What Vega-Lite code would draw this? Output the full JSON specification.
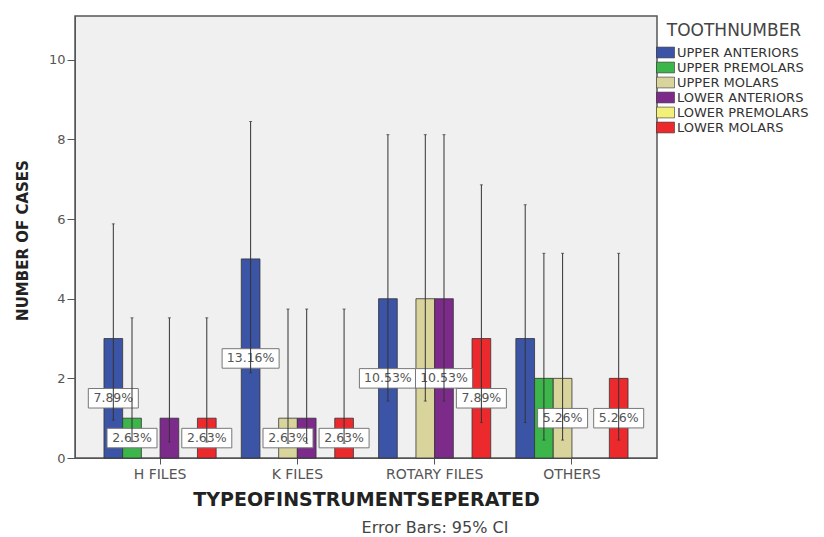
{
  "$schema": "https://vega.github.io/schema/vega-lite/v6.json",
  "autosize": {"type": "none"},
  "width": 582,
  "height": 442,
  "padding": {"left": 75, "top": 16, "right": 167, "bottom": 79},
  "background": "white",
  "config": {
    "font": "DejaVu Sans",
    "view": {"fill": "#f0f0f0", "stroke": "#555555", "strokeWidth": 1.5},
    "axis": {"grid": false, "domainColor": "#555555", "tickColor": "#555555", "labelColor": "#555555"}
  },
  "title": {
    "text": "Error Bars: 95% CI",
    "orient": "bottom",
    "anchor": "middle",
    "dx": 69,
    "offset": 11,
    "fontSize": 16,
    "fontWeight": "normal",
    "color": "#444444"
  },
  "data": {
    "values": [
      {"type": "H FILES", "tooth": "UPPER ANTERIORS", "count": 3, "lo": 0.95, "hi": 5.88},
      {"type": "H FILES", "tooth": "UPPER PREMOLARS", "count": 1, "lo": 0.41, "hi": 3.52},
      {"type": "H FILES", "tooth": "LOWER ANTERIORS", "count": 1, "lo": 0.4, "hi": 3.52},
      {"type": "H FILES", "tooth": "LOWER MOLARS", "count": 1, "lo": 0.4, "hi": 3.52},
      {"type": "K FILES", "tooth": "UPPER ANTERIORS", "count": 5, "lo": 2.14, "hi": 8.45},
      {"type": "K FILES", "tooth": "UPPER MOLARS", "count": 1, "lo": 0.37, "hi": 3.74},
      {"type": "K FILES", "tooth": "LOWER ANTERIORS", "count": 1, "lo": 0.37, "hi": 3.74},
      {"type": "K FILES", "tooth": "LOWER MOLARS", "count": 1, "lo": 0.37, "hi": 3.74},
      {"type": "ROTARY FILES", "tooth": "UPPER ANTERIORS", "count": 4, "lo": 1.43, "hi": 8.12},
      {"type": "ROTARY FILES", "tooth": "UPPER MOLARS", "count": 4, "lo": 1.43, "hi": 8.12},
      {"type": "ROTARY FILES", "tooth": "LOWER ANTERIORS", "count": 4, "lo": 1.43, "hi": 8.12},
      {"type": "ROTARY FILES", "tooth": "LOWER MOLARS", "count": 3, "lo": 0.89, "hi": 6.86},
      {"type": "OTHERS", "tooth": "UPPER ANTERIORS", "count": 3, "lo": 0.89, "hi": 6.36},
      {"type": "OTHERS", "tooth": "UPPER PREMOLARS", "count": 2, "lo": 0.45, "hi": 5.14},
      {"type": "OTHERS", "tooth": "UPPER MOLARS", "count": 2, "lo": 0.45, "hi": 5.14},
      {"type": "OTHERS", "tooth": "LOWER MOLARS", "count": 2, "lo": 0.45, "hi": 5.14}
    ]
  },
  "transform": [
    {"joinaggregate": [{"op": "sum", "field": "count", "as": "total"}]},
    {"calculate": "datum.count / datum.total", "as": "share"},
    {"calculate": "datum.count / 2", "as": "mid"}
  ],
  "encoding": {
    "x": {
      "field": "type",
      "type": "nominal",
      "sort": ["H FILES", "K FILES", "ROTARY FILES", "OTHERS"],
      "scale": {"paddingInner": 0.183, "paddingOuter": 0.211},
      "axis": {
        "title": "TYPEOFINSTRUMENTSEPERATED",
        "labelAngle": 0,
        "tickSize": 6,
        "labelPadding": 3,
        "labelFontSize": 14,
        "titleFontSize": 19,
        "titleFontWeight": "bold",
        "titleColor": "#222222",
        "titleX": 291,
        "titleY": 47,
        "titleBaseline": "alphabetic"
      }
    },
    "xOffset": {
      "field": "tooth",
      "type": "nominal",
      "sort": ["UPPER ANTERIORS", "UPPER PREMOLARS", "UPPER MOLARS", "LOWER ANTERIORS", "LOWER PREMOLARS", "LOWER MOLARS"],
      "scale": {
        "domain": ["UPPER ANTERIORS", "UPPER PREMOLARS", "UPPER MOLARS", "LOWER ANTERIORS", "LOWER PREMOLARS", "LOWER MOLARS"],
        "paddingInner": 0,
        "paddingOuter": 0
      }
    }
  },
  "layer": [
    {
      "mark": {"type": "bar", "stroke": "#333333", "strokeWidth": 0.8},
      "encoding": {
        "y": {
          "field": "count",
          "type": "quantitative",
          "scale": {"domain": [0, 11.1], "nice": false},
          "axis": {
            "title": "NUMBER OF CASES",
            "values": [0, 2, 4, 6, 8, 10],
            "tickSize": 8,
            "labelPadding": 2,
            "labelFontSize": 13,
            "titleFontSize": 15,
            "titleFontWeight": "bold",
            "titleColor": "#222222",
            "titleX": -53,
            "titleY": 224,
            "titleBaseline": "middle"
          }
        },
        "color": {
          "field": "tooth",
          "type": "nominal",
          "scale": {
            "domain": ["UPPER ANTERIORS", "UPPER PREMOLARS", "UPPER MOLARS", "LOWER ANTERIORS", "LOWER PREMOLARS", "LOWER MOLARS"],
            "range": ["#3b54a5", "#3cb54a", "#d8d49c", "#7d2b8b", "#f3f07a", "#ec2a2e"]
          },
          "legend": {
            "title": "TOOTHNUMBER",
            "orient": "none",
            "legendX": 584,
            "legendY": 7,
            "padding": 0,
            "titleFontSize": 17,
            "titleFontWeight": "normal",
            "titleColor": "#444444",
            "titleAnchor": "middle",
            "titlePadding": 6,
            "labelFontSize": 13,
            "labelColor": "#333333",
            "labelOffset": 5,
            "rowPadding": 0,
            "symbolType": "M-1.5,-0.9H1.5V0.9H-1.5Z",
            "symbolSize": 144,
            "symbolStrokeColor": "#333333",
            "symbolStrokeWidth": 0.6,
            "symbolOpacity": 1
          }
        }
      }
    },
    {
      "transform": [{"filter": "indexof(['H FILES|UPPER ANTERIORS', 'H FILES|UPPER PREMOLARS', 'H FILES|LOWER MOLARS', 'K FILES|UPPER ANTERIORS', 'K FILES|UPPER MOLARS', 'K FILES|LOWER MOLARS', 'ROTARY FILES|UPPER ANTERIORS', 'ROTARY FILES|LOWER ANTERIORS', 'ROTARY FILES|LOWER MOLARS', 'OTHERS|UPPER MOLARS', 'OTHERS|LOWER MOLARS'], datum.type + '|' + datum.tooth) >= 0"}],
      "layer": [
        {
          "transform": [{"filter": "datum.share < 0.1"}],
          "mark": {"type": "point", "shape": "M-1,-0.39H1V0.39H-1Z", "size": 2500, "filled": true, "fill": "white", "stroke": "#777777", "strokeWidth": 1, "opacity": 1},
          "encoding": {"y": {"field": "mid", "type": "quantitative"}}
        },
        {
          "transform": [{"filter": "datum.share >= 0.1"}],
          "mark": {"type": "point", "shape": "M-1.14,-0.39H1.14V0.39H-1.14Z", "size": 2500, "filled": true, "fill": "white", "stroke": "#777777", "strokeWidth": 1, "opacity": 1},
          "encoding": {"y": {"field": "mid", "type": "quantitative"}}
        },
        {
          "mark": {"type": "text", "fontSize": 12.5, "color": "#555555", "baseline": "middle"},
          "encoding": {
            "y": {"field": "mid", "type": "quantitative"},
            "text": {"field": "share", "type": "quantitative", "format": ".2%"}
          }
        }
      ]
    },
    {
      "mark": {"type": "rule", "color": "#333333", "strokeWidth": 1},
      "encoding": {
        "y": {"field": "lo", "type": "quantitative"},
        "y2": {"field": "hi"}
      }
    },
    {
      "mark": {"type": "tick", "color": "#333333", "size": 3, "thickness": 1, "orient": "horizontal"},
      "encoding": {"y": {"field": "hi", "type": "quantitative"}}
    },
    {
      "mark": {"type": "tick", "color": "#333333", "size": 3, "thickness": 1, "orient": "horizontal"},
      "encoding": {"y": {"field": "lo", "type": "quantitative"}}
    }
  ]
}
